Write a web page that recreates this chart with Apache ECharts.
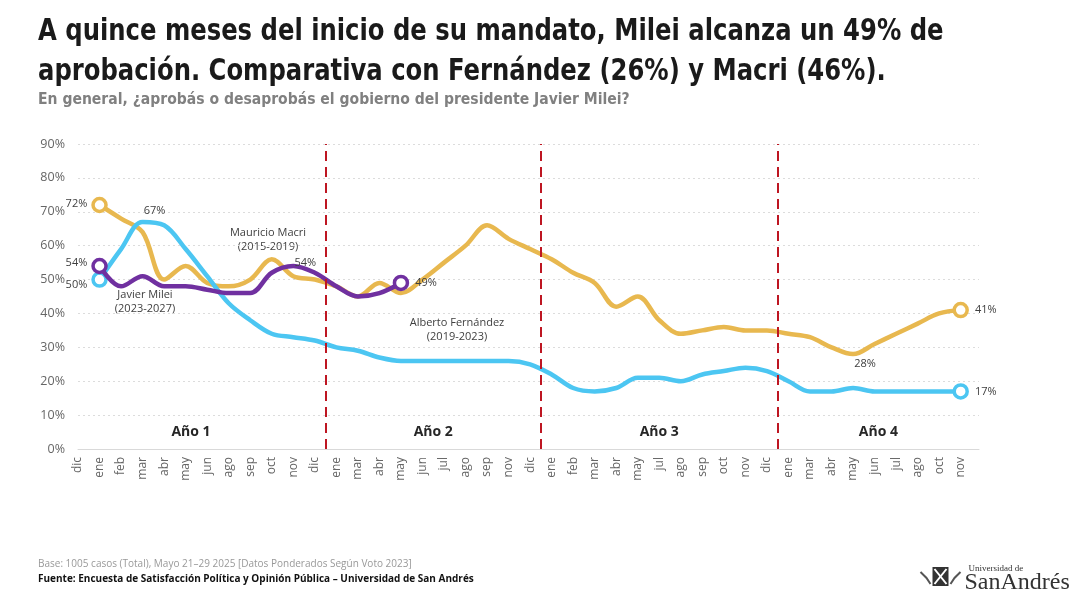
<!DOCTYPE html>
<html><head><meta charset="utf-8">
<script src="https://cdn.jsdelivr.net/npm/echarts@6/dist/echarts.min.js"></script>
<style>html,body{margin:0;padding:0;background:#fff}#c{width:1080px;height:601px}</style>
</head><body><div id="c"></div>
<script>
const categories = ['dic','ene','feb','mar','abr','may','jun','ago','sep','oct','nov','dic',
  'ene','mar','abr','may','jun','jul','ago','sep','nov','dic',
  'ene','feb','mar','abr','may','jul','ago','sep','oct','nov','dic',
  'ene','mar','abr','may','jun','jul','ago','oct','nov'];
const yearLabels = ['Año 1','Año 2','Año 3','Año 4'];
const yearBreaks = [11.5, 21.5, 32.5];
// values start at category index 1 (ene)
const macri = [72,68,64,50,54,49,48,50,56,51,50,48,45,49,46,50,55,60,66,62,59,56,52,49,42,45,38,34,35,36,35,35,34,33,30,28,31,34,37,40,41];
const fernandez = [50,59,67,66,59,51,43,38,34,33,32,30,29,27,26,26,26,26,26,26,25,22,18,17,18,21,21,20,22,23,24,23,20,17,17,18,17,17,17,17,17];
const milei = [54,48,51,48,48,47,46,46,52,54,52,48,45,46,49];
const yTicks = [0,10,20,30,40,50,60,70,80,90];

const GOLD = '#E8B84F', BLUE = '#4CC6F2', PURPLE = '#7030A0';
const F = '"Open Sans", "Noto Sans", sans-serif';
const NARROW = '"Liberation Sans Narrow", "DejaVu Sans Condensed", sans-serif';

function build(vals, color, labels) {
  return vals.map((v, k) => {
    const i = k + 1;
    const item = { value: [i, v], symbolSize: 0 };
    const last = k === vals.length - 1;
    if (k === 0 || last) {
      item.symbolSize = 13;
      item.itemStyle = { color: '#fff', borderColor: color, borderWidth: 3.5 };
    }
    if (labels[k] || (last && labels.last)) {
      const cfg = labels[k] || labels.last;
      item.label = Object.assign({ show: true, formatter: v + '%', color: '#404040', fontSize: 11, fontFamily: F }, cfg);
    }
    return item;
  });
}

const chart = echarts.init(document.getElementById('c'), null, { renderer: 'canvas' });
const series = [
  { name: 'Macri', type: 'line', smooth: 0.35, symbol: 'circle', z: 2,
    lineStyle: { color: GOLD, width: 4.5 }, itemStyle: { color: GOLD },
    data: build(macri, GOLD, { 0: { position: 'left', distance: 4, offset: [0, -1] },
      35: { position: 'bottom', distance: 4, offset: [12, 0] }, last: { position: 'right', distance: 6 } }),
    markLine: { silent: true, symbol: 'none', label: { show: false },
      lineStyle: { color: '#BE1622', type: [10, 6], width: 2 },
      data: yearBreaks.map(b => ({ xAxis: b })) } },
  { name: 'Fernández', type: 'line', smooth: 0.35, symbol: 'circle', z: 3,
    lineStyle: { color: BLUE, width: 4.5 }, itemStyle: { color: BLUE },
    data: build(fernandez, BLUE, { 0: { position: 'left', distance: 4, offset: [0, 5] },
      2: { position: 'top', distance: 4, offset: [12, -2] }, last: { position: 'right', distance: 6 } }) },
  { name: 'Milei', type: 'line', smooth: 0.35, symbol: 'circle', z: 4,
    lineStyle: { color: PURPLE, width: 4.5 }, itemStyle: { color: PURPLE },
    data: build(milei, PURPLE, { 0: { position: 'left', distance: 4, offset: [0, -3] },
      9: { position: 'top', distance: 4, offset: [12, 6] }, last: { position: 'right', distance: 6 } }) }
];

const option = {
  animation: false,
  backgroundColor: '#fff',
  grid: { left: 78, right: 101, top: 144, bottom: 152, containLabel: false },
  xAxis: { type: 'value', min: 0, max: 41.85, interval: 1,
    axisLine: { show: true, lineStyle: { color: '#d9d9d9', width: 1 } },
    axisTick: { show: false }, splitLine: { show: false },
    axisLabel: { rotate: 90, margin: 8, color: '#666', fontSize: 12, fontFamily: F,
      showMaxLabel: false,
      formatter: v => (Number.isInteger(v) && categories[v] !== undefined) ? categories[v] : '' } },
  yAxis: { type: 'value', min: 0, max: 90, interval: 10,
    axisLine: { show: false }, axisTick: { show: false },
    splitLine: { lineStyle: { color: '#dcdcdc', type: [2, 3], width: 1 } },
    axisLabel: { margin: 13, color: '#666', fontSize: 12.5, fontFamily: F,
      formatter: v => yTicks.includes(v) ? v + '%' : '' } },
  series: series,
  graphic: []
};
chart.setOption(option);

// annotations
const px = (x, y) => chart.convertToPixel({ gridIndex: 0 }, [x, y]);
const bounds = [-1, ...yearBreaks, 41.85];
const g = [];
g.push({ type: 'text', x: 38, y: 12, scaleX: 0.9, style: { text: 'A quince meses del inicio de su mandato, Milei alcanza un 49% de\naprobación. Comparativa con Fernández (26%) y Macri (46%).',
  fill: '#1a1a1a', font: 'bold 30px ' + NARROW, lineHeight: 40 } });
g.push({ type: 'text', x: 38, y: 92, scaleX: 0.972, style: { text: 'En general, ¿aprobás o desaprobás el gobierno del presidente Javier Milei?',
  fill: '#808080', font: 'bold 16px ' + NARROW } });
for (let k = 0; k < 4; k++) {
  const c = px((bounds[k] + bounds[k + 1]) / 2, 5);
  g.push({ type: 'text', x: c[0], y: 432, style: { text: yearLabels[k], fill: '#262626', font: 'bold 14px ' + F, align: 'center', verticalAlign: 'middle' } });
}
const ann = [
  { t: 'Mauricio Macri\n(2015-2019)', x: 268, y: 240 },
  { t: 'Javier Milei\n(2023-2027)', x: 145, y: 302 },
  { t: 'Alberto Fernández\n(2019-2023)', x: 457, y: 330 }
];
ann.forEach(a => g.push({ type: 'text', x: a.x, y: a.y, style: { text: a.t, fill: '#404040', font: '11px ' + F, align: 'center', verticalAlign: 'middle', lineHeight: 14 } }));
g.push({ type: 'text', left: 38, top: 559, style: { text: 'Base: 1005 casos (Total), Mayo 21–29 2025 [Datos Ponderados Según Voto 2023]', fill: '#999', font: '10px ' + F } });
g.push({ type: 'text', left: 38, top: 574, style: { text: 'Fuente: Encuesta de Satisfacción Política y Opinión Pública – Universidad de San Andrés', fill: '#111', font: 'bold 10px ' + F } });
// logo
g.push({ type: 'group', left: 918, top: 564, children: [
  { type: 'rect', shape: { x: 14, y: 3, width: 16, height: 19 }, style: { fill: '#333' } },
  { type: 'line', shape: { x1: 16, y1: 5, x2: 28, y2: 20 }, style: { stroke: '#fff', lineWidth: 2 } },
  { type: 'line', shape: { x1: 28, y1: 5, x2: 16, y2: 20 }, style: { stroke: '#fff', lineWidth: 2 } },
  { type: 'polyline', shape: { points: [[2, 8], [8, 14], [12, 20]] }, style: { stroke: '#555', lineWidth: 2, fill: null } },
  { type: 'polyline', shape: { points: [[42, 8], [36, 14], [32, 20]] }, style: { stroke: '#555', lineWidth: 2, fill: null } },
  { type: 'text', x: 50, y: 0, style: { text: 'Universidad de', fill: '#333', font: '9px "Liberation Serif", serif' } },
  { type: 'text', x: 46, y: 7, style: { text: 'SanAndrés', fill: '#333', font: '24px "Liberation Serif", "DejaVu Serif", serif' } }
] });
chart.setOption({ graphic: g });
</script></body></html>
